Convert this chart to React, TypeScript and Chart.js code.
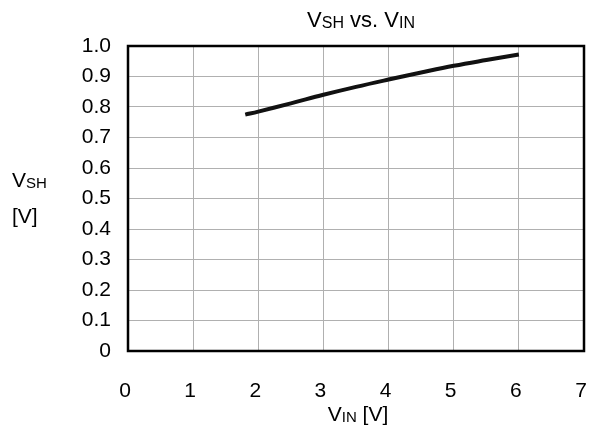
import React, { useEffect, useRef } from "react";
import { Chart, registerables } from "chart.js";

Chart.register(...registerables);

const xValues = [1.8, 2.0, 2.5, 3.0, 3.5, 4.0, 4.5, 5.0, 5.5, 6.0];
const vshValues = [0.775, 0.785, 0.812, 0.84, 0.866, 0.89, 0.913, 0.935, 0.954, 0.972];
const xTicks = [0, 1, 2, 3, 4, 5, 6, 7];
const yTicks = [0, 0.1, 0.2, 0.3, 0.4, 0.5, 0.6, 0.7, 0.8, 0.9, 1.0];

const FONT = "'Liberation Sans', Arial, sans-serif";

type Part = { t: string; sub?: boolean };

function drawParts(ctx: CanvasRenderingContext2D, parts: Part[], x: number, y: number, size: number, align: "left" | "center") {
  const subSize = Math.round(size * 0.71);
  let total = 0;
  for (const p of parts) {
    ctx.font = `${p.sub ? subSize : size}px ${FONT}`;
    total += ctx.measureText(p.t).width;
  }
  let cx = align === "center" ? x - total / 2 : x;
  ctx.textBaseline = "alphabetic";
  ctx.textAlign = "left";
  for (const p of parts) {
    ctx.font = `${p.sub ? subSize : size}px ${FONT}`;
    ctx.fillText(p.t, cx, p.sub ? y + 1 : y);
    cx += ctx.measureText(p.t).width;
  }
}

const labelsPlugin = {
  id: "labelsPlugin",
  afterDraw(chart: any) {
    const { ctx, chartArea } = chart;
    ctx.save();
    ctx.strokeStyle = "#000";
    ctx.lineWidth = 2.5;
    ctx.strokeRect(chartArea.left, chartArea.top, chartArea.right - chartArea.left, chartArea.bottom - chartArea.top);
    ctx.fillStyle = "#000";
    drawParts(ctx, [{ t: "V" }, { t: "SH", sub: true }, { t: " vs. V" }, { t: "IN", sub: true }], 361, 27, 22, "center");
    drawParts(ctx, [{ t: "V" }, { t: "SH", sub: true }], 12, 187, 21, "left");
    drawParts(ctx, [{ t: "[V]" }], 12, 223, 21, "left");
    drawParts(ctx, [{ t: "V" }, { t: "IN", sub: true }, { t: " [V]" }], 358, 421, 21, "center");
    ctx.restore();
  },
};

export default function App() {
  const ref = useRef<HTMLCanvasElement | null>(null);
  useEffect(() => {
    if (!ref.current) return;
    const chart = new Chart(ref.current, {
      type: "line",
      data: {
        datasets: [
          {
            data: xValues.map((x, i) => ({ x, y: vshValues[i] })),
            borderColor: "#111",
            borderWidth: 4,
            pointRadius: 0,
            tension: 0.4,
            fill: false,
          },
        ],
      },
      options: {
        animation: false,
        responsive: true,
        maintainAspectRatio: false,
        layout: { padding: { left: 0, right: 10, top: 46, bottom: 0 } },
        plugins: { legend: { display: false }, tooltip: { enabled: false } },
        scales: {
          x: {
            type: "linear",
            min: 0,
            max: 7,
            afterFit: (s: any) => { s.height = 77; s.paddingRight = 0; s.paddingLeft = 0; },
            afterBuildTicks: (s: any) => { s.ticks = xTicks.map((v) => ({ value: v })); },
            grid: { color: "#b0b0b0", lineWidth: 1, drawTicks: false },
            border: { display: false },
            ticks: { color: "#000", font: { family: FONT, size: 21 }, padding: 28, labelOffset: -3, maxRotation: 0, callback: (v: any) => String(v) },
          },
          y: {
            type: "linear",
            min: 0,
            max: 1,
            afterFit: (s: any) => { s.width = 128; s.paddingTop = 0; s.paddingBottom = 0; },
            afterBuildTicks: (s: any) => { s.ticks = yTicks.map((v) => ({ value: v })); },
            grid: { color: "#b0b0b0", lineWidth: 1, drawTicks: false },
            border: { display: false },
            ticks: {
              color: "#000",
              font: { family: FONT, size: 21 },
              padding: 17,
              callback: (v: any) => (v === 0 ? "0" : Number(v).toFixed(1)),
            },
          },
        },
      },
      plugins: [labelsPlugin],
    });
    return () => chart.destroy();
  }, []);
  return (
    <div style={{ position: "fixed", left: 0, top: 0, width: 594, height: 428, background: "#fff" }}>
      <canvas ref={ref} />
    </div>
  );
}
